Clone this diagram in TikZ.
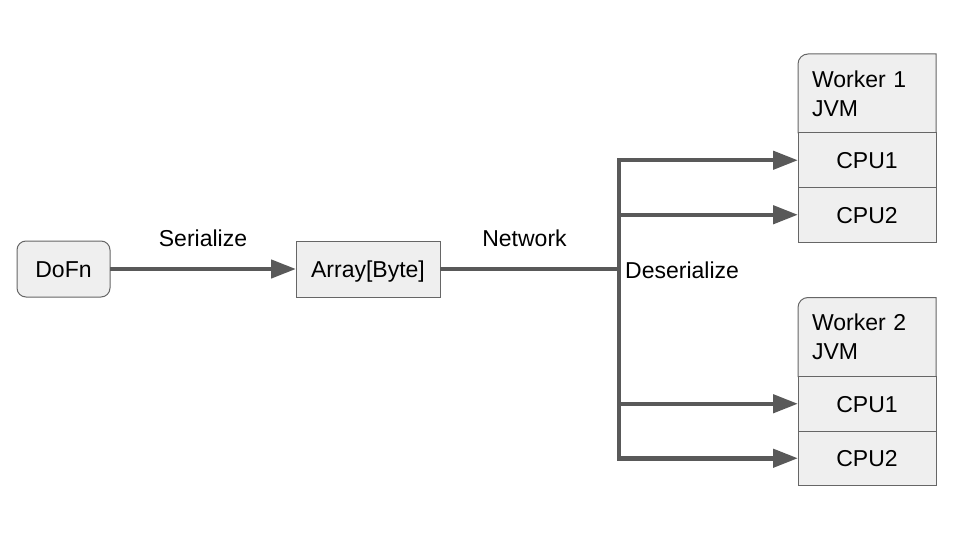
\documentclass[tikz,border=0pt]{standalone}
\usepackage{fontspec}
\setmainfont{Liberation Sans}
\usetikzlibrary{arrows.meta,positioning}
\definecolor{boxfill}{HTML}{EFEFEF}
\definecolor{boxline}{HTML}{666666}
\definecolor{wirecol}{HTML}{595959}
\tikzset{
  box/.style={draw=boxline, fill=boxfill, line width=1pt, inner sep=0pt, outer sep=0pt, minimum height=56pt, text height=16.5pt, text depth=0pt},
  cell/.style={box, minimum width=138pt, minimum height=54.5pt},
  header/.style={minimum width=138pt, minimum height=79pt, inner xsep=14pt, inner ysep=0pt, outer sep=0pt, text width=110pt, align=left},
  wire/.style={draw=wirecol, line width=4.5pt},
  feed/.style={wire, -{Triangle[length=25pt,width=18pt]}},
  lbl/.style={anchor=base, inner sep=0pt}
}
\begin{document}
\begin{tikzpicture}[x=1pt, y=-1pt, font=\fontsize{23pt}{29pt}\selectfont]
\useasboundingbox (0,0) rectangle (960,540);
% sender side
\node [box, rounded corners=9pt, minimum width=93pt] (dofn) at (63.5,269) {DoFn};
\node [box, minimum width=144pt] (bytes) at (368,269) {Array[Byte]};
\coordinate (hub) at (619,269);
% workers
\foreach \w/\y in {1/54, 2/297.5} {
  \draw [draw=boxline, fill=boxfill, line width=1pt] (798,{\y+79}) -- (798,{\y+10}) .. controls (798,{\y+4.48}) and (802.48,\y) .. (808,\y) -- (936,\y) -- (936,{\y+79}) -- cycle;
  \node [header, anchor=north west] (w\w) at (798,\y) {Worker \w\\JVM};
  \node [cell, below=0pt of w\w] (w\w c1) {CPU1};
  \node [cell, below=0pt of w\w c1] (w\w c2) {CPU2};
}
% connectors
\draw [feed] (dofn) -- (bytes);
\draw [wire] (bytes) -- (hub);
\draw [wire, line cap=rect] (hub |- w1c1.west) -- (hub |- w2c2.west);
\foreach \w in {1,2}
  \foreach \c in {c1,c2}
    \draw [feed] (hub |- w\w\c.west) -- (w\w\c.west);
% labels
\node [lbl] at (203,246) {Serialize};
\node [lbl] at (524.5,246) {Network};
\node [lbl, anchor=base west] at (625,278) {Deserialize};
\end{tikzpicture}
\end{document}
